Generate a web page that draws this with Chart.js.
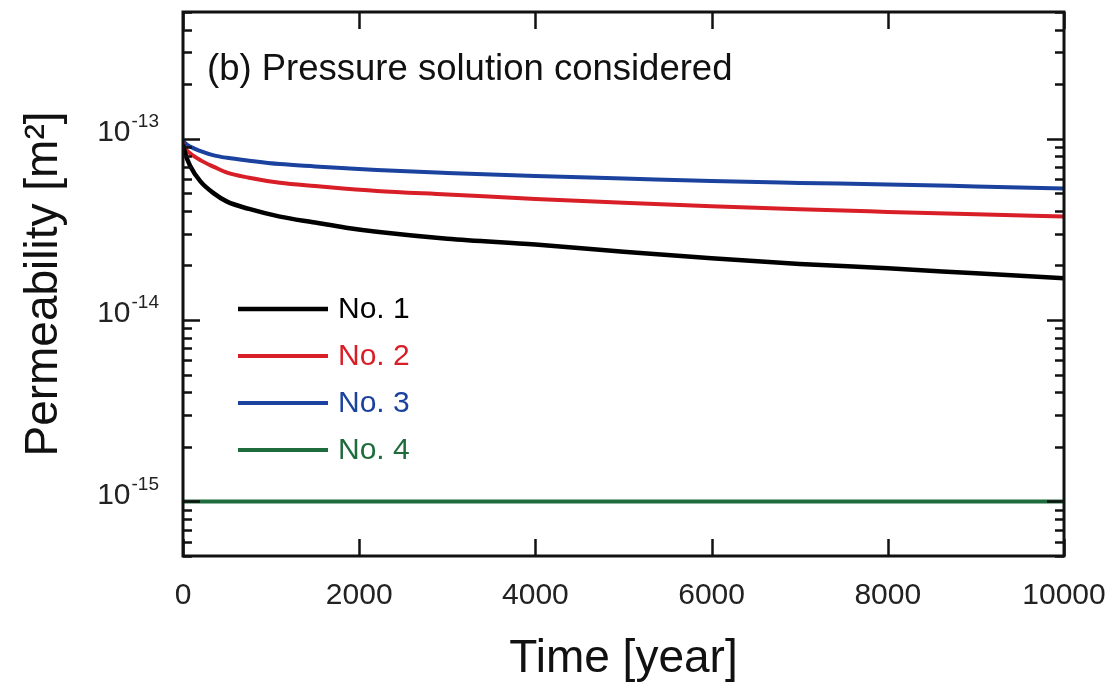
<!DOCTYPE html>
<html>
<head>
<meta charset="utf-8">
<script src="https://cdn.jsdelivr.net/npm/chart.js@4.4.0/dist/chart.umd.min.js"></script>
<style>
  body { margin: 0; background: #fff; }
  #wrap { width: 1114px; height: 689px; }
</style>
</head>
<body>
<div id="wrap"><canvas id="permChart" width="1114" height="689"></canvas></div>
<script>
// time in years
const years = [0, 25, 80, 200, 350, 500, 750, 1100, 1500, 1850, 2200, 3000, 4000, 5000, 6000, 7000, 8000, 9000, 10000];

// permeability [m2]
const no1 = [9.3e-14, 8.3e-14, 7.1e-14, 5.8e-14, 5.0e-14, 4.5e-14, 4.1e-14, 3.72e-14, 3.45e-14, 3.23e-14, 3.07e-14,
             2.81e-14, 2.61e-14, 2.38e-14, 2.19e-14, 2.04e-14, 1.93e-14, 1.81e-14, 1.70e-14];
const no2 = [9.45e-14, 8.86e-14, 8.31e-14, 7.6e-14, 7.0e-14, 6.5e-14, 6.1e-14, 5.72e-14, 5.48e-14, 5.3e-14, 5.15e-14,
             4.93e-14, 4.66e-14, 4.43e-14, 4.24e-14, 4.08e-14, 3.95e-14, 3.83e-14, 3.72e-14];
const no3 = [9.8e-14, 9.45e-14, 9.05e-14, 8.55e-14, 8.1e-14, 7.85e-14, 7.57e-14, 7.25e-14, 7.04e-14, 6.87e-14, 6.72e-14,
             6.48e-14, 6.24e-14, 6.04e-14, 5.84e-14, 5.71e-14, 5.6e-14, 5.46e-14, 5.32e-14];
const no4 = [1e-15, 1e-15, 1e-15, 1e-15, 1e-15, 1e-15, 1e-15, 1e-15, 1e-15, 1e-15, 1e-15,
             1e-15, 1e-15, 1e-15, 1e-15, 1e-15, 1e-15, 1e-15, 1e-15];

const seriesNames = ["No. 1", "No. 2", "No. 3", "No. 4"];
const seriesColors = ["#000000", "#d81e27", "#1b429e", "#1e6b3c"];
const xTicks = [0, 2000, 4000, 6000, 8000, 10000];
const yDecades = [-16, -15, -14, -13];

const FONT = "'Liberation Sans', Arial, Helvetica, sans-serif";

function toPoints(vals) {
  return years.map((t, i) => ({ x: t, y: vals[i] }));
}

// ticks pointing inward on all four sides, the frame, the y labels, legend and panel note
const framePlugin = {
  id: "frame",
  afterDatasetsDraw(chart) {
    const ctx = chart.ctx;
    const a = chart.chartArea;
    const xs = chart.scales.x;
    const ys = chart.scales.y;
    ctx.save();
    ctx.strokeStyle = "#111";
    ctx.lineWidth = 2.5;
    ctx.beginPath();
    // y ticks
    yDecades.forEach(e => {
      for (let m = 1; m <= 9; m++) {
        const v = m * Math.pow(10, e);
        if (v < ys.min || v > ys.max) continue;
        const py = Math.round(ys.getPixelForValue(v)) + 0.5;
        const len = m === 1 ? 17 : 9;
        ctx.moveTo(a.left, py); ctx.lineTo(a.left + len, py);
        ctx.moveTo(a.right, py); ctx.lineTo(a.right - len, py);
      }
    });
    // x ticks
    xTicks.forEach(v => {
      const px = Math.round(xs.getPixelForValue(v)) + 0.5;
      ctx.moveTo(px, a.bottom); ctx.lineTo(px, a.bottom - 17);
      ctx.moveTo(px, a.top); ctx.lineTo(px, a.top + 17);
    });
    ctx.stroke();
    ctx.lineWidth = 3;
    ctx.strokeRect(a.left, a.top, a.right - a.left, a.bottom - a.top);

    // y tick labels 10^n
    ctx.fillStyle = "#222";
    ctx.textBaseline = "middle";
    yDecades.forEach(e => {
      const v = Math.pow(10, e);
      if (v < ys.min || v > ys.max) return;
      const py = ys.getPixelForValue(v);
      ctx.font = "19px " + FONT;
      ctx.textAlign = "right";
      const ex = String(e);
      const exW = ctx.measureText(ex).width;
      ctx.fillText(ex, 159, py - 17);
      ctx.font = "30px " + FONT;
      ctx.fillText("10", 159 - exW - 1, py - 6);
    });

    // legend
    ctx.textAlign = "left";
    ctx.font = "30px " + FONT;
    chart.data.datasets.forEach((ds, i) => {
      const ly = 309 + i * 47;
      ctx.strokeStyle = ds.borderColor;
      ctx.lineWidth = ds.borderWidth;
      ctx.beginPath();
      ctx.moveTo(238, ly); ctx.lineTo(328, ly);
      ctx.stroke();
      ctx.fillStyle = ds.borderColor;
      ctx.fillText(ds.label, 338, ly + 1);
    });

    // panel note
    ctx.fillStyle = "#111";
    ctx.font = "36.5px " + FONT;
    ctx.fillText("(b) Pressure solution considered", 207, 70);
    ctx.restore();
  }
};

const ctx = document.getElementById("permChart").getContext("2d");
new Chart(ctx, {
  type: "line",
  data: {
    datasets: [no1, no2, no3, no4].map((vals, i) => ({
      label: seriesNames[i],
      data: toPoints(vals),
      borderColor: seriesColors[i],
      borderWidth: i === 0 ? 4.5 : 4,
      pointRadius: 0,
      fill: false,
      cubicInterpolationMode: "monotone"
    }))
  },
  options: {
    responsive: false,
    animation: false,
    layout: { padding: { left: 0, top: 12, right: 50, bottom: 0 } },
    plugins: { legend: { display: false }, tooltip: { enabled: false } },
    scales: {
      x: {
        type: "linear",
        min: 0,
        max: 10000,
        grid: { display: false },
        border: { display: false },
        afterBuildTicks: s => { s.ticks = xTicks.map(v => ({ value: v })); },
        afterFit: s => { s.height = 133; s.paddingLeft = 0; s.paddingRight = 0; },
        ticks: {
          color: "#222",
          font: { family: FONT, size: 30 },
          padding: 14,
          maxRotation: 0,
          autoSkip: false,
          callback: v => String(v)
        },
        title: {
          display: true,
          text: "Time [year]",
          color: "#111",
          font: { family: FONT, size: 46 },
          padding: { top: 0, bottom: 2 }
        }
      },
      y: {
        type: "logarithmic",
        min: 5e-16,
        max: 5e-13,
        grid: { display: false },
        border: { display: false },
        ticks: { display: false },
        afterFit: s => { s.width = 183; },
        title: {
          display: true,
          text: "Permeability [m²]",
          color: "#111",
          font: { family: FONT, size: 46 },
          padding: { top: 17, bottom: 0 }
        }
      }
    }
  },
  plugins: [framePlugin]
});
</script>
</body>
</html>
